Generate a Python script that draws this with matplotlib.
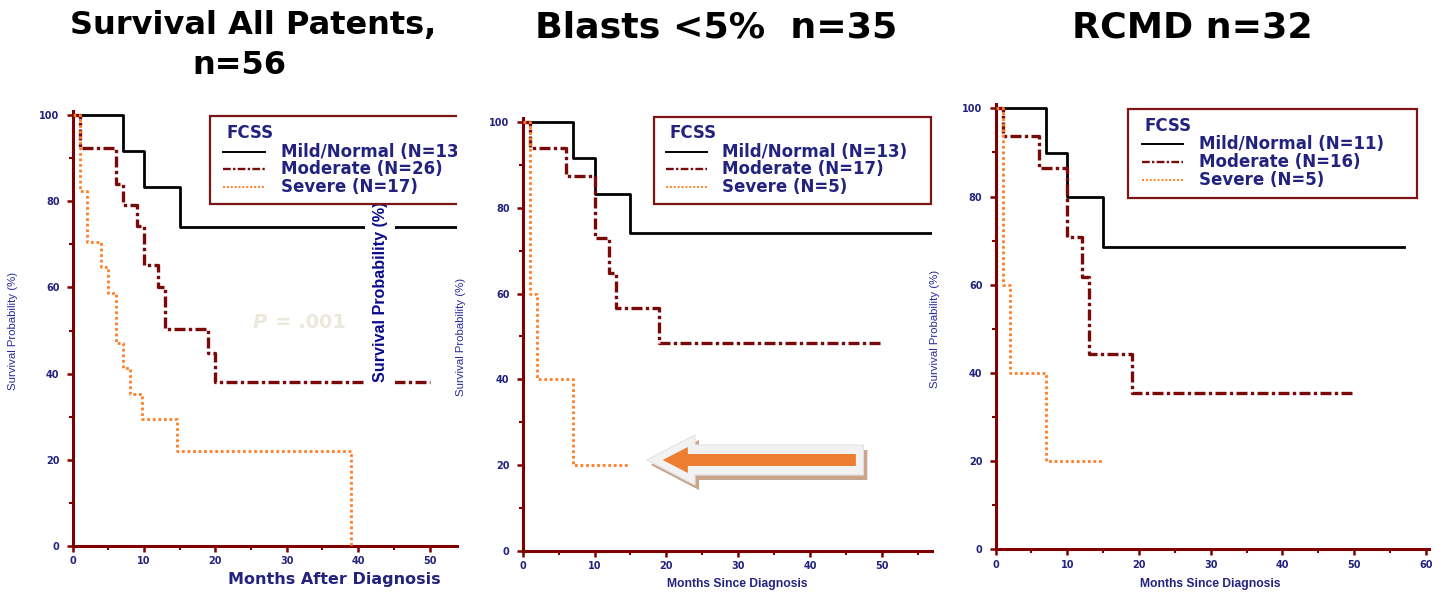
import matplotlib
matplotlib.use("Agg")
import matplotlib.pyplot as plt
from matplotlib import font_manager
from matplotlib.patches import Rectangle, FancyArrow
from matplotlib.lines import Line2D
from matplotlib.ticker import MultipleLocator

# ---------------------------------------
# data
# ---------------------------------------
titles = ["Survival All Patents,", "Blasts <5%  n=35", "RCMD n=32"]
title1_line2 = "n=56"
legend_title = "FCSS"

p1_labels = ["Mild/Normal (N=13)", "Moderate (N=26)", "Severe (N=17)"]
p1_mild_t = [0, 7, 10, 15, 60]
p1_mild_s = [100, 91.7, 83.3, 74.0, 74.0]
p1_mod_t = [0, 1, 6, 7, 9, 10, 12, 13, 19, 20, 50]
p1_mod_s = [100, 92.3, 84.0, 79.1, 74.3, 65.2, 60.2, 50.3, 44.7, 38.1, 38.1]
p1_sev_t = [0, 1, 2, 4, 5, 6, 7, 8, 9.7, 14.6, 39]
p1_sev_s = [100, 82.4, 70.6, 64.7, 58.8, 47.1, 41.2, 35.3, 29.4, 22.1, 0]

p2_labels = ["Mild/Normal (N=13)", "Moderate (N=17)", "Severe (N=5)"]
p2_mild_t = [0, 7, 10, 15, 60]
p2_mild_s = [100, 91.7, 83.3, 74.1, 74.1]
p2_mod_t = [0, 1, 6, 10, 12, 13, 19, 50]
p2_mod_s = [100, 94.1, 87.5, 72.9, 64.9, 56.6, 48.5, 48.5]
p2_sev_t = [0, 1, 2, 7, 15]
p2_sev_s = [100, 60, 40, 20, 20]

p3_labels = ["Mild/Normal (N=11)", "Moderate (N=16)", "Severe (N=5)"]
p3_mild_t = [0, 7, 10, 15, 57]
p3_mild_s = [100, 89.9, 80.0, 68.5, 68.5]
p3_mod_t = [0, 1, 6, 10, 12, 13, 19, 50]
p3_mod_s = [100, 93.8, 86.5, 70.9, 61.8, 44.2, 35.4, 35.4]
p3_sev_t = [0, 1, 2, 7, 15]
p3_sev_s = [100, 60, 40, 20, 20]

p_value_label = "= .001"

# ---------------------------------------
# style
# ---------------------------------------
maroon = "#7f0000"
navy = "#23237f"
orange = "#ff7f27"
names = {f.name for f in font_manager.fontManager.ttflist}
narrow = "Liberation Sans Narrow" in names
nar_family = ["Liberation Sans Narrow"] if narrow else ["Liberation Sans"]

plt.rcParams["font.family"] = ["DejaVu Sans"]

fig = plt.figure(figsize=(14.44, 5.92), dpi=100)

panels = [
    dict(rect=[0.05035, 0.0777, 0.2659, 0.7353], xmax=53.8, xticks=range(0, 51, 10),
         data=[(p1_mild_t, p1_mild_s), (p1_mod_t, p1_mod_s), (p1_sev_t, p1_sev_s)],
         labels=p1_labels, box=(0.3576, 0.785, 0.7, 0.2035), fcss=(0.401, 0.948),
         line_x=(0.392, 0.501), text_x=0.5435, rows=(0.9058, 0.8654, 0.8247),
         xlabel="Months After Diagnosis", xl_pos=(0.682, -0.078), big_xlabel=True,
         yl_pos=(-0.1424, 0.494), clip=True),
    dict(rect=[0.3620, 0.0698, 0.2834, 0.7309], xmax=57, xticks=range(0, 51, 10),
         data=[(p2_mild_t, p2_mild_s), (p2_mod_t, p2_mod_s), (p2_sev_t, p2_sev_s)],
         labels=p2_labels, box=(0.321, 0.8006, 0.677, 0.201), fcss=(0.3584, 0.9646),
         line_x=(0.3504, 0.4499), text_x=0.4866, rows=(0.9221, 0.8814, 0.8398),
         xlabel="Months Since Diagnosis", xl_pos=(0.5235, -0.077), big_xlabel=False,
         yl_pos=(-0.1386, 0.495), clip=False),
    dict(rect=[0.6895, 0.0721, 0.3004, 0.7524], xmax=60.5, xticks=range(0, 61, 10),
         data=[(p3_mild_t, p3_mild_s), (p3_mod_t, p3_mod_s), (p3_sev_t, p3_sev_s)],
         labels=p3_labels, box=(0.3057, 0.788, 0.6648, 0.1999), fcss=(0.344, 0.9504),
         line_x=(0.3366, 0.4325), text_x=0.4693, rows=(0.9093, 0.8689, 0.8285),
         xlabel="Months Since Diagnosis", xl_pos=(0.494, -0.0786), big_xlabel=False,
         yl_pos=(-0.128, 0.4946), clip=False),
]

line_styles = [
    dict(color="black", lw=2.0, ls="-"),
    dict(color="#7a0a0a", lw=2.4, ls=(0, (3.3, 1, 1, 1))),
    dict(color=orange, lw=2.0, ls=(0, (1, 1))),
]

axes = []
for p in panels:
    ax = fig.add_axes(p["rect"])
    axes.append(ax)
    for (t, s), st in zip(p["data"], line_styles):
        ax.step(t, s, where="post", color=st["color"], lw=st["lw"], linestyle=st["ls"], zorder=3)

    ax.set_xlim(0, p["xmax"])
    ax.set_ylim(0, 101)
    for side in ["top", "right"]:
        ax.spines[side].set_visible(False)
    for side in ["left", "bottom"]:
        ax.spines[side].set_color(maroon)
        ax.spines[side].set_linewidth(2.2)
    ax.set_xticks(list(p["xticks"]))
    ax.xaxis.set_minor_locator(MultipleLocator(5))
    ax.set_yticks(range(0, 101, 20))
    ax.yaxis.set_minor_locator(MultipleLocator(10))
    ax.tick_params(which="major", length=4.5, width=1.8, color=maroon,
                   labelcolor=navy, labelsize=7)
    ax.tick_params(which="minor", length=3, width=1.5, color=maroon)
    ax.tick_params(axis="y", pad=5)
    ax.tick_params(axis="x", pad=3)
    for lab in ax.get_xticklabels() + ax.get_yticklabels():
        lab.set_fontweight("bold")

    # y label
    ax.set_ylabel("Survival Probability (%)", color="#2a2a9a",
                  family=nar_family, fontsize=10 if narrow else 8.2)
    ax.yaxis.set_label_coords(*p["yl_pos"])

    # x label
    if p["big_xlabel"]:
        ax.set_xlabel(p["xlabel"], color=navy, fontsize=11.5, fontweight="bold")
    else:
        ax.set_xlabel(p["xlabel"], color=navy, fontsize=8.7, fontweight="bold",
                      family=["Liberation Sans"])
    ax.xaxis.set_label_coords(*p["xl_pos"])
    ax.xaxis.label.set_va("center")

    # legend box drawn by hand
    bx, by, bw, bh = p["box"]
    ax.add_patch(Rectangle((bx, by), bw, bh, transform=ax.transAxes, facecolor="white",
                           edgecolor="#7f1414", lw=1.6, zorder=6, clip_on=p["clip"]))
    ax.text(p["fcss"][0], p["fcss"][1], legend_title, transform=ax.transAxes, color=navy,
            fontsize=12, fontweight="bold", va="center", ha="left", zorder=7)
    for lab, st, ry in zip(p["labels"], line_styles, p["rows"]):
        ax.add_line(Line2D(p["line_x"], [ry, ry], transform=ax.transAxes, color=st["color"],
                           lw=st["lw"] * 0.7, linestyle=st["ls"], zorder=7))
        ax.text(p["text_x"], ry, lab, transform=ax.transAxes, color=navy, fontsize=12,
                fontweight="bold", va="center", ha="left", zorder=7, clip_on=p["clip"])

ax1, ax2, ax3 = axes

# big overlay axis label left over in panel 1
ax1.text(43.08, 38.1, "Survival Probability (%)", rotation=90, ha="center", va="bottom",
         color="#0a0a8c", fontweight="bold", family=nar_family,
         fontsize=14.2 if narrow else 11.6, zorder=5,
         bbox=dict(boxstyle="square,pad=0.45", fc="white", ec="none"))

# faint p value
ax1.text(25.2, 51.8, "P", color="#ebe8dc", fontsize=14, fontweight="bold",
         fontstyle="italic", va="center", ha="left", zorder=2)
ax1.text(28.3, 51.8, p_value_label, color="#ebe8dc", fontsize=14, fontweight="bold",
         va="center", ha="left", zorder=2)

# arrow in panel 2
ax2.add_patch(FancyArrow(48.0, 20.0, -30.17, 0, width=7.0, head_width=11.7, head_length=6.73,
                         length_includes_head=True, fc="#c9a58c", ec="none", zorder=4))
ax2.add_patch(FancyArrow(47.44, 21.17, -30.17, 0, width=7.0, head_width=11.7, head_length=6.73,
                         length_includes_head=True, fc="#f2f2f2", ec="#e4e4e4", lw=0.8, zorder=4))
ax2.add_patch(FancyArrow(46.4, 21.17, -26.9, 0, width=2.8, head_width=6.06, head_length=3.5,
                         length_includes_head=True, fc="#ed7d31", ec="none", zorder=5))

# titles
fig.text(0.1756, 0.942, titles[0], ha="center", va="baseline", fontsize=23,
         fontweight="bold", color="black")
fig.text(0.1655, 0.875, title1_line2, ha="center", va="baseline", fontsize=23,
         fontweight="bold", color="black")
fig.text(0.4962, 0.9363, titles[1], ha="center", va="baseline", fontsize=26.2,
         fontweight="bold", color="black")
fig.text(0.8258, 0.9363, titles[2], ha="center", va="baseline", fontsize=26.2,
         fontweight="bold", color="black")

fig.savefig("out.png", dpi=100)
